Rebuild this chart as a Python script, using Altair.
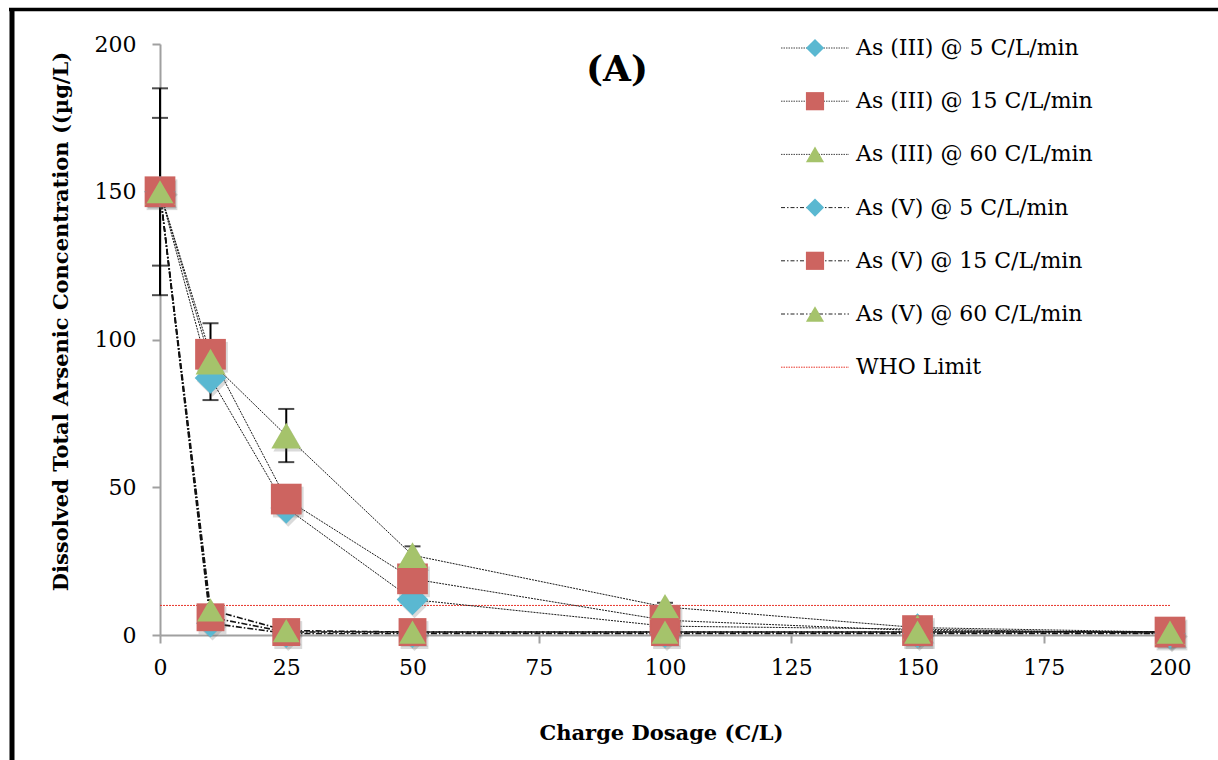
import altair as alt
import pandas as pd

# Charge dosage (C/L) at each sampling point
dosage = [0, 10, 25, 50, 100, 150, 200]

# Dissolved total arsenic (µg/L) for each species / current density
as3_5 = [150, 87, 43, 12, 3, 2, 0.5]
as3_15 = [150, 95, 46, 19, 5, 1.5, 1]
as3_60 = [150, 92.5, 67.5, 27, 9.5, 2.5, 1]
as5_5 = [150, 4, 0.5, 0.5, 0.5, 0.5, 0.5]
as5_15 = [150, 6, 1, 1, 1, 1, 1]
as5_60 = [150, 8.5, 1.5, 1, 1, 1, 1]

# Standard deviations (µg/L); zero where no bar is shown
err3_15 = [25, 0, 0, 0, 0, 0, 0]
err3_60 = [35, 13, 9, 3, 1.4, 0, 0]

who_limit = 10

series = [
    "As (III) @ 5 C/L/min",
    "As (III) @ 15 C/L/min",
    "As (III) @ 60 C/L/min",
    "As (V) @ 5 C/L/min",
    "As (V) @ 15 C/L/min",
    "As (V) @ 60 C/L/min",
]
values = [as3_5, as3_15, as3_60, as5_5, as5_15, as5_60]
species = ["III", "III", "III", "V", "V", "V"]
shapes = ["diamond", "square", "triangle-up"] * 2
colors = ["#5ab8d1", "#cd6460", "#a5c36b"] * 2
sizes = [1000, 720, 500] * 2
legend_sizes = [330, 330, 330] * 2

rows = []
for k, (name, vals) in enumerate(zip(series, values)):
    for j, (x, y) in enumerate(zip(dosage, vals)):
        rows.append({"series": name, "species": species[k], "order": k * 10 + j,
                     "dosage": x, "conc": y})
df = pd.DataFrame(rows)

err_rows = []
for name, errs, vals in [(series[1], err3_15, as3_15), (series[2], err3_60, as3_60)]:
    for x, y, e in zip(dosage, vals, errs):
        if e > 0:
            err_rows.append({"dosage": x, "lo": y - e, "hi": y + e})
err_df = pd.DataFrame(err_rows)

legend_labels = series + ["WHO Limit"]
legend_df = pd.DataFrame({
    "label": legend_labels,
    "i": list(range(len(legend_labels))),
    "kind": species + ["WHO"],
})

FONT = "DejaVu Serif"
W, H = 1010, 591

xs = alt.X("dosage:Q", scale=alt.Scale(domain=[0, 200], nice=False),
           axis=alt.Axis(values=list(range(0, 201, 25)), title="Charge Dosage (C/L)",
                         labelFlush=False,
                         titleBaseline="middle", titleY=98, titleX=W / 2 - 4))
ys = alt.Y("conc:Q", scale=alt.Scale(domain=[0, 200], nice=False),
           axis=alt.Axis(values=[0, 50, 100, 150, 200], labelFlush=False,
                         title="Dissolved Total Arsenic Concentration ((µg/L)",
                         titleX=-99, titleY=277, titleBaseline="middle"))

color_enc = alt.Color("series:N", scale=alt.Scale(domain=series, range=colors), legend=None)
shape_enc = alt.Shape("series:N", scale=alt.Scale(domain=series, range=shapes), legend=None)
size_enc = alt.Size("series:N", scale=alt.Scale(domain=series, range=sizes), legend=None)

base = alt.Chart(df)

who = alt.Chart(pd.DataFrame({"dosage": [0], "dosage2": [200], "conc": [who_limit]})).mark_rule(
    color="#e8352b", strokeWidth=1, strokeDash=[2, 1]
).encode(x=xs, x2="dosage2:Q", y=ys)

err_y = alt.Y("lo:Q", scale=alt.Scale(domain=[0, 200], nice=False))
err_bars = alt.Chart(err_df).mark_rule(color="black", strokeWidth=2).encode(
    x=xs, y=err_y, y2="hi:Q")
cap_lo = alt.Chart(err_df).mark_tick(color="black", thickness=2, size=16, orient="horizontal").encode(
    x=xs, y=err_y)
cap_hi = alt.Chart(err_df).mark_tick(color="black", thickness=2, size=16, orient="horizontal").encode(
    x=xs, y=alt.Y("hi:Q", scale=alt.Scale(domain=[0, 200], nice=False)))

lines3 = base.transform_filter(alt.datum.species == "III").mark_line(
    color="#1a1a1a", strokeWidth=1, strokeDash=[2, 1]
).encode(x=xs, y=ys, detail="series:N", order="order:Q")
lines5 = base.transform_filter(alt.datum.species == "V").mark_line(
    color="#111111", strokeWidth=1.6, strokeDash=[6, 2, 1.5, 2]
).encode(x=xs, y=ys, detail="series:N", order="order:Q")

shadow = base.mark_point(filled=True, opacity=0.22, color="#555555", xOffset=2, yOffset=3).encode(
    x=xs, y=ys, shape=shape_enc, size=size_enc, order="order:Q")
markers = base.mark_point(filled=True, opacity=1, strokeWidth=0).encode(
    x=xs, y=ys, shape=shape_enc, color=color_enc, size=size_enc, order="order:Q")

# Legend drawn by hand at the top right of the plot area
leg = alt.Chart(legend_df).transform_calculate(ly="4 + 53.2 * datum.i")
leg_y = alt.Y("ly:Q", scale=None, axis=None)
leg_line3 = leg.transform_filter(alt.datum.kind == "III").mark_rule(
    color="#444444", strokeWidth=1, strokeDash=[1.5, 1]
).encode(x=alt.value(621), x2=alt.value(689), y=leg_y)
leg_line5 = leg.transform_filter(alt.datum.kind == "V").mark_rule(
    color="#222222", strokeWidth=1, strokeDash=[4, 2, 1.5, 2]
).encode(x=alt.value(621), x2=alt.value(689), y=leg_y)
leg_who = leg.transform_filter(alt.datum.kind == "WHO").mark_rule(
    color="#e8352b", strokeWidth=1, strokeDash=[1.5, 1]
).encode(x=alt.value(621), x2=alt.value(689), y=leg_y)
leg_marks = leg.transform_filter(alt.datum.kind != "WHO").mark_point(
    filled=True, opacity=1, strokeWidth=0
).encode(
    x=alt.value(655), y=leg_y,
    shape=alt.Shape("label:N", scale=alt.Scale(domain=series, range=shapes), legend=None),
    color=alt.Color("label:N", scale=alt.Scale(domain=series, range=colors), legend=None),
    size=alt.Size("label:N", scale=alt.Scale(domain=series, range=legend_sizes), legend=None),
)
leg_text = leg.mark_text(align="left", baseline="middle", font=FONT, fontSize=22, color="black").encode(
    x=alt.value(696), y=leg_y, text="label:N")

panel_label = alt.Chart(pd.DataFrame({"t": ["(A)"]})).mark_text(
    font=FONT, fontSize=36, fontWeight="bold", color="black", align="center", baseline="middle"
).encode(x=alt.value(457), y=alt.value(26), text="t:N")

# Frame along the top and left edges of the figure
frame_top = alt.Chart(pd.DataFrame({"a": [0]})).mark_rule(color="black", strokeWidth=3.5).encode(
    x=alt.value(-151), x2=alt.value(1058), y=alt.value(-34.5))
frame_left = alt.Chart(pd.DataFrame({"a": [0]})).mark_rule(color="black", strokeWidth=5).encode(
    x=alt.value(-148), y=alt.value(-36), y2=alt.value(716))

chart = alt.layer(
    who, err_bars, cap_lo, cap_hi, lines3, lines5, shadow, markers,
    leg_line3, leg_line5, leg_who, leg_marks, leg_text, panel_label, frame_top, frame_left,
).resolve_scale(
    shape="independent", color="independent", size="independent"
).properties(
    width=W, height=H,
    autosize=alt.AutoSizeParams(type="none"),
    padding={"left": 160, "top": 44, "right": 48, "bottom": 125},
    background="white",
).configure_view(
    stroke=None, clip=False
).configure_axis(
    labelFont=FONT, labelFontSize=22, labelColor="black",
    titleFont=FONT, titleFontSize=21, titleFontWeight="bold", titleColor="black",
    domainColor="#a0a0a0", domainWidth=2, tickColor="#a0a0a0", tickWidth=2, tickSize=8,
    grid=False,
).configure_axisX(
    labelPadding=14,
).configure_axisY(
    labelPadding=16,
)

chart.save("out.html", embed_options={"renderer": "svg", "actions": False})
